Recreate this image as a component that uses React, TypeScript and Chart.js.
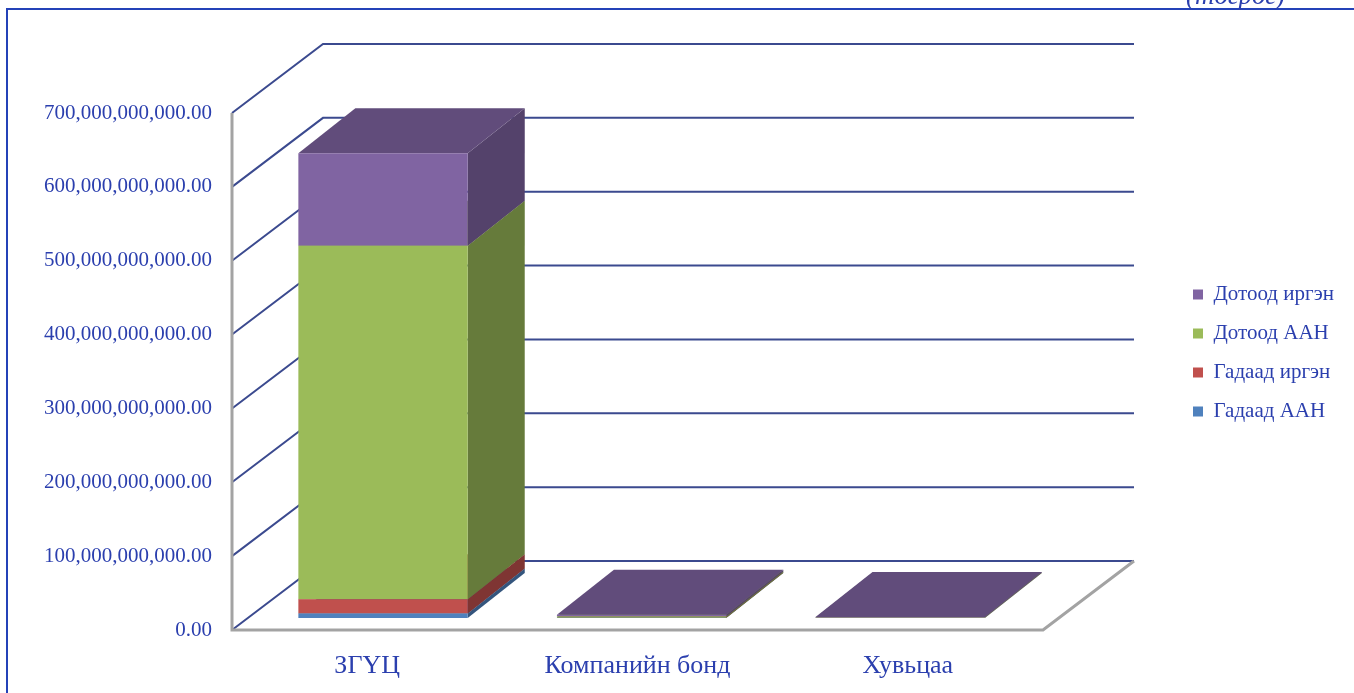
import React, { useEffect, useRef } from 'react';
import { Chart, registerables } from 'chart.js';

Chart.register(...registerables);

// ---------- data ----------
const categories = ['ЗГҮЦ', 'Компанийн бонд', 'Хувьцаа'];
const seriesNames = ['Гадаад ААН', 'Гадаад иргэн', 'Дотоод ААН', 'Дотоод иргэн'];
const gadaadAAN = [6.0e9, 0.3e9, 0];
const gadaadIrgen = [19.4e9, 0.2e9, 0];
const dotoodAAN = [478.7e9, 1.5e9, 0.3e9];
const dotoodIrgen = [125.2e9, 2.5e9, 1.0e9];
const seriesValues = [gadaadAAN, gadaadIrgen, dotoodAAN, dotoodIrgen];
const seriesColors = ['#4F81BD', '#C0504D', '#9BBB59', '#8064A2'];
const yMin = 0;
const yMax = 700e9;
const yStep = 100e9;
const unitLabel = '(төгрөг)';

// ---------- styling / geometry ----------
const FONT = "'Liberation Serif', 'Times New Roman', serif";
const TEXT_BLUE = '#2B3FAE';
const FRAME_BLUE = '#2442B8';
const GRID_NAVY = '#3B4A8F';
const EDGE_GRAY = '#A3A3A3';
const CANVAS_W = 1346;
const CANVAS_H = 683;
const WALL_DX = 91;
const WALL_DY = -69;
// bar plane: x' = PLANE_SCALE * x + PLANE_SHIFT_X (simple perspective), y' = y + PLANE_SHIFT_Y
const PLANE_SCALE = 0.9565;
const PLANE_SHIFT_X = 31.5;
const PLANE_SHIFT_Y = -12;
const BAR_DX = 57;
const BAR_DY = -45;
const LEGEND_LEFT = 1167;
const LEGEND_TOP = 256;

function shade(hex: string, f: number): string {
  const n = parseInt(hex.slice(1), 16);
  const r = Math.round(((n >> 16) & 255) * f);
  const g = Math.round(((n >> 8) & 255) * f);
  const b = Math.round((n & 255) * f);
  return `rgb(${r},${g},${b})`;
}

function poly(ctx: CanvasRenderingContext2D, pts: number[][], fill: string) {
  ctx.beginPath();
  ctx.moveTo(pts[0][0], pts[0][1]);
  for (let i = 1; i < pts.length; i++) ctx.lineTo(pts[i][0], pts[i][1]);
  ctx.closePath();
  ctx.fillStyle = fill;
  ctx.fill();
}

const px = (x: number) => PLANE_SCALE * x + PLANE_SHIFT_X;

const threeDPlugin = {
  id: 'threeD',
  afterLayout(chart: any) {
    const lg = chart.legend;
    if (lg) {
      lg.left = LEGEND_LEFT;
      lg.right = LEGEND_LEFT + 178;
      lg.top = LEGEND_TOP;
      lg.bottom = LEGEND_TOP + 220;
    }
  },
  beforeDatasetsDraw(chart: any) {
    const ctx: CanvasRenderingContext2D = chart.ctx;
    const area = chart.chartArea;
    const ys = chart.scales.y;
    ctx.save();
    ctx.strokeStyle = GRID_NAVY;
    ctx.lineWidth = 2;
    ys.ticks.forEach((t: any) => {
      const py = ys.getPixelForValue(t.value);
      ctx.beginPath();
      ctx.moveTo(area.left, py);
      ctx.lineTo(area.left + WALL_DX, py + WALL_DY);
      ctx.lineTo(area.right + WALL_DX, py + WALL_DY);
      ctx.stroke();
    });
    ctx.strokeStyle = EDGE_GRAY;
    ctx.lineWidth = 3;
    ctx.beginPath();
    ctx.moveTo(area.left, ys.getPixelForValue(yMax));
    ctx.lineTo(area.left, area.bottom);
    ctx.lineTo(area.right, area.bottom);
    ctx.lineTo(area.right + WALL_DX, area.bottom + WALL_DY);
    ctx.stroke();
    ctx.restore();

    for (let i = 0; i < categories.length; i++) {
      for (let d = 0; d < seriesValues.length; d++) {
        if (!seriesValues[d][i]) continue;
        const el: any = chart.getDatasetMeta(d).data[i];
        if (!el) continue;
        const L = px(el.x - el.width / 2);
        const R = px(el.x + el.width / 2);
        const top = Math.min(el.y, el.base) + PLANE_SHIFT_Y;
        const bot = Math.max(el.y, el.base) + PLANE_SHIFT_Y;
        const c = seriesColors[d];
        poly(ctx, [[R, top], [R + BAR_DX, top + BAR_DY], [R + BAR_DX, bot + BAR_DY], [R, bot]], shade(c, 0.66));
        poly(ctx, [[L, top], [R, top], [R + BAR_DX, top + BAR_DY], [L + BAR_DX, top + BAR_DY]], shade(c, 0.76));
      }
    }
    ctx.save();
    ctx.translate(PLANE_SHIFT_X, PLANE_SHIFT_Y);
    ctx.scale(PLANE_SCALE, 1);
  },
  afterDatasetsDraw(chart: any) {
    chart.ctx.restore();
  },
};

export default function App() {
  const ref = useRef<HTMLCanvasElement | null>(null);

  useEffect(() => {
    document.documentElement.style.overflow = 'hidden';
    document.body.style.overflow = 'hidden';
    const canvas = ref.current;
    if (!canvas) return;
    const chart = new Chart(canvas, {
      type: 'bar',
      data: {
        labels: categories,
        datasets: seriesNames.map((name, k) => ({
          label: name,
          data: seriesValues[k],
          backgroundColor: seriesColors[k],
          borderWidth: 0,
          barPercentage: 0.655,
          categoryPercentage: 1,
        })),
      },
      options: {
        responsive: false,
        animation: false,
        layout: { padding: { left: 0, top: 103, right: 161, bottom: 8 } },
        plugins: {
          legend: {
            position: 'right',
            reverse: true,
            maxWidth: 150,
            align: 'start',
            labels: {
              boxWidth: 10,
              boxHeight: 10,
              padding: 18,
              color: TEXT_BLUE,
              font: { family: FONT, size: 21 },
            },
          },
          tooltip: { enabled: false },
        },
        scales: {
          x: {
            stacked: true,
            grid: { display: false, drawTicks: false },
            border: { display: false },
            ticks: { color: TEXT_BLUE, font: { family: FONT, size: 26 }, padding: 21, maxRotation: 0 },
            afterFit: (s: any) => { s.height = 55; },
          },
          y: {
            stacked: true,
            min: yMin,
            max: yMax,
            grid: { display: false, drawTicks: false },
            border: { display: false },
            ticks: {
              stepSize: yStep,
              color: TEXT_BLUE,
              font: { family: FONT, size: 21 },
              padding: 20,
              callback: (v: any) =>
                Number(v).toLocaleString('en-US', { minimumFractionDigits: 2, maximumFractionDigits: 2 }),
            },
            afterFit: (s: any) => { s.width = 224; },
          },
        },
      } as any,
      plugins: [threeDPlugin],
    });
    return () => chart.destroy();
  }, []);

  return (
    <div style={{ position: 'relative', paddingTop: 2, width: CANVAS_W, height: CANVAS_H }}>
      <canvas ref={ref} width={CANVAS_W} height={CANVAS_H} style={{ display: 'block' }} />
      <div style={{ position: 'fixed', left: 6, top: 8, width: 2, height: 800, background: FRAME_BLUE }} />
      <div style={{ position: 'fixed', left: 6, top: 8, width: 'calc(100vw - 6px)', height: 2, background: FRAME_BLUE }} />
      <span
        style={{
          position: 'fixed',
          left: 1186,
          top: -18,
          fontFamily: FONT,
          fontStyle: 'italic',
          fontSize: 27,
          lineHeight: '27px',
          color: TEXT_BLUE,
          whiteSpace: 'nowrap',
        }}
      >
        {unitLabel}
      </span>
    </div>
  );
}
